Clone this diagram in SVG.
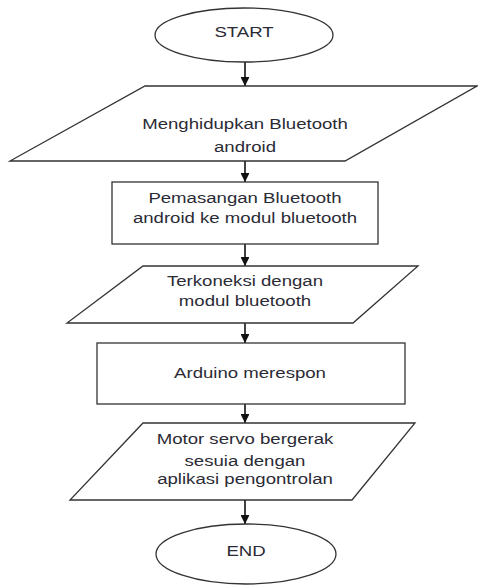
<svg xmlns="http://www.w3.org/2000/svg" width="478" height="586" viewBox="0 0 478 586">
<style>
.s{fill:#fff;stroke:#333;stroke-width:1.3}
.t{font-family:"Liberation Sans",Arial,sans-serif;font-size:15.5px;fill:#2b2b35;text-anchor:middle}
.c{stroke:#111;stroke-width:1.6;fill:none}
</style>
<defs>
<marker id="ah" viewBox="0 0 10 10" refX="10" refY="5" markerWidth="5.6" markerHeight="5.6" orient="auto" markerUnits="strokeWidth"><path d="M0,0L10,5L0,10z" fill="#111"/></marker>
</defs>
<rect width="478" height="586" fill="#fff"/>
<g id="connectors">
<line class="c" x1="245" y1="62" x2="245" y2="86" marker-end="url(#ah)"/>
<line class="c" x1="245" y1="161" x2="245" y2="182" marker-end="url(#ah)"/>
<line class="c" x1="245" y1="244" x2="245" y2="266" marker-end="url(#ah)"/>
<line class="c" x1="245" y1="323" x2="245" y2="343" marker-end="url(#ah)"/>
<line class="c" x1="245" y1="404" x2="245" y2="423" marker-end="url(#ah)"/>
<line class="c" x1="245" y1="500" x2="245" y2="524" marker-end="url(#ah)"/>
</g>
<g id="start">
<ellipse class="s" cx="244" cy="35" rx="89" ry="27"/>
<text class="t" transform="translate(244 36.5) scale(1.2 1)">START</text>
</g>
<g id="n1">
<polygon class="s" points="145,86 477,86 345,161 10,161"/>
<text class="t" transform="translate(245 128.5) scale(1.2 1)">Menghidupkan Bluetooth</text>
<text class="t" transform="translate(245 152) scale(1.2 1)">android</text>
</g>
<g id="n2">
<rect class="s" x="112" y="182" width="266" height="62"/>
<text class="t" transform="translate(245 203) scale(1.2 1)">Pemasangan Bluetooth</text>
<text class="t" transform="translate(245 223) scale(1.2 1)">android ke modul bluetooth</text>
</g>
<g id="n3">
<polygon class="s" points="143,266 418,266 353,323 67,323"/>
<text class="t" transform="translate(245 286) scale(1.2 1)">Terkoneksi dengan</text>
<text class="t" transform="translate(245 306) scale(1.2 1)">modul bluetooth</text>
</g>
<g id="n4">
<rect class="s" x="97" y="343" width="308" height="61"/>
<text class="t" transform="translate(250 378) scale(1.2 1)">Arduino merespon</text>
</g>
<g id="n5">
<polygon class="s" points="143,423 415,423 352,500 70,500"/>
<text class="t" transform="translate(245 444) scale(1.2 1)">Motor servo bergerak</text>
<text class="t" transform="translate(245 466) scale(1.2 1)">sesuia dengan</text>
<text class="t" transform="translate(245 484) scale(1.2 1)">aplikasi pengontrolan</text>
</g>
<g id="end">
<ellipse class="s" cx="246" cy="554" rx="90" ry="30"/>
<text class="t" transform="translate(246 555.5) scale(1.2 1)">END</text>
</g>
</svg>
